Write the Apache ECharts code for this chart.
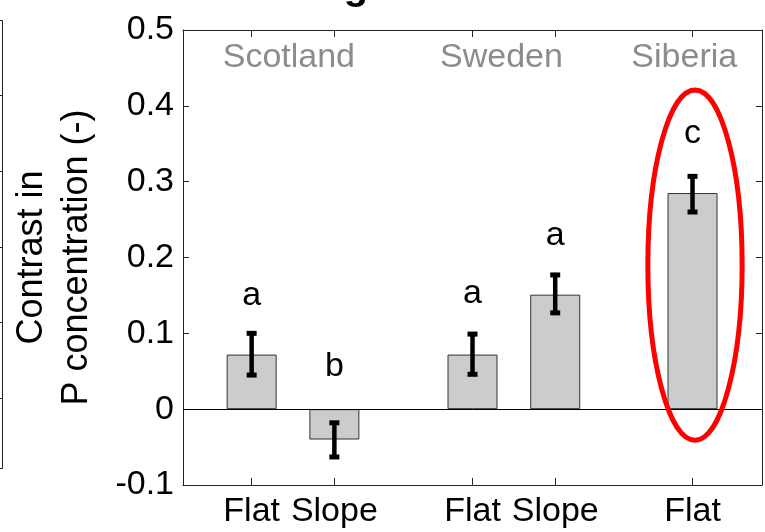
<!DOCTYPE html>
<html>
<head>
<meta charset="utf-8">
<script src="https://cdn.jsdelivr.net/npm/echarts@6/dist/echarts.min.js"></script>
<style>
html, body { margin: 0; padding: 0; background: #fff; }
#main { width: 765px; height: 532px; }
</style>
</head>
<body>
<div id="main"></div>
<script>
// 数据
var barNames = ['Flat', 'Slope', 'Flat', 'Slope', 'Flat'];
var barX = [1, 2, 3.67, 4.67, 6.33];
var barValues = [0.072, -0.040, 0.072, 0.151, 0.285];
var errLow = [0.045, -0.063, 0.046, 0.127, 0.260];
var errHigh = [0.100, -0.018, 0.099, 0.177, 0.307];
var letters = ['a', 'b', 'a', 'a', 'c'];
var letterY = [0.150, 0.056, 0.152, 0.229, 0.363];
var groupNames = ['Scotland', 'Sweden', 'Siberia'];
var groupX = [1.45, 4.02, 6.23];
var groupY = 0.464;
// 椭圆 (中心x, 中心y, 半宽, 半高)
var ellipse = [6.36, 0.19, 0.57, 0.231];

var FONT = 'Liberation Sans, Arial, sans-serif';

var chart = echarts.init(document.getElementById('main'));

var barData = [];
var errData = [];
var letterData = [];
for (var i = 0; i < barX.length; i++) {
    barData.push([barX[i], barValues[i]]);
    errData.push([barX[i], errLow[i], errHigh[i]]);
    letterData.push([barX[i], letterY[i]]);
}
var groupData = [];
for (var j = 0; j < groupNames.length; j++) {
    groupData.push([groupX[j], groupY]);
}

function xLabel(v) {
    for (var k = 0; k < barX.length; k++) {
        if (Math.abs(barX[k] - v) < 1e-6) return barNames[k];
    }
    return '';
}

var option = {
    animation: false,
    backgroundColor: '#fff',
    grid: { left: 183, right: 3, top: 30, bottom: 47 },
    xAxis: [{
        type: 'value', min: 0.17, max: 7.17, position: 'bottom',
        splitLine: { show: false },
        axisLine: { show: true, onZero: false, lineStyle: { color: '#222', width: 1 } },
        axisTick: { show: true, inside: true, length: 7, customValues: barX, lineStyle: { color: '#222' } },
        axisLabel: { show: true, customValues: barX, formatter: xLabel, margin: 10,
            color: '#000', fontSize: 34, fontFamily: FONT }
    }, {
        type: 'value', min: 0.17, max: 7.17, position: 'top',
        splitLine: { show: false },
        axisLine: { show: true, onZero: false, lineStyle: { color: '#222', width: 1 } },
        axisTick: { show: true, inside: true, length: 7, customValues: barX, lineStyle: { color: '#222' } },
        axisLabel: { show: false }
    }],
    yAxis: [{
        type: 'value', min: -0.1, max: 0.5, interval: 0.1, position: 'left',
        name: 'Contrast in\nP concentration (-)',
        nameLocation: 'middle', nameRotate: 90, nameGap: 83,
        nameTextStyle: { color: '#000', fontSize: 36, fontFamily: FONT, lineHeight: 45 },
        splitLine: { show: false },
        axisLine: { show: true, lineStyle: { color: '#222', width: 1 } },
        axisTick: { show: true, inside: true, length: 6, lineStyle: { color: '#222' } },
        axisLabel: { color: '#000', fontSize: 34, fontFamily: FONT, margin: 9,
            formatter: function (v) { return String(Math.round(v * 10) / 10); } }
    }, {
        type: 'value', min: -0.1, max: 0.5, interval: 0.1, position: 'right',
        splitLine: { show: false },
        axisLine: { show: true, lineStyle: { color: '#222', width: 1 } },
        axisTick: { show: true, inside: true, length: 6, lineStyle: { color: '#222' } },
        axisLabel: { show: false }
    }],
    graphic: [{
        // 左侧相邻图的边框
        type: 'polyline', silent: true,
        shape: { points: [[0, 20.5], [2.5, 20.5], [2.5, 468.5], [0, 468.5]] },
        style: { fill: 'none', stroke: '#222', lineWidth: 1 }
    }, {
        type: 'group', silent: true,
        children: [95, 171, 247, 322, 398].map(function (yy) {
            return { type: 'line', shape: { x1: 0, y1: yy + 0.5, x2: 2.5, y2: yy + 0.5 },
                style: { stroke: '#222', lineWidth: 1 } };
        })
    }, {
        // 标题被截掉的部分
        type: 'text', silent: true, x: 356, y: 8,
        style: { text: 'g', font: 'bold 40px ' + FONT, fill: '#000', align: 'center', verticalAlign: 'bottom' }
    }],
    series: [{
        type: 'bar', xAxisIndex: 0, yAxisIndex: 0,
        data: barData, barWidth: 50,
        itemStyle: { color: '#cccccc', borderColor: '#333', borderWidth: 1 },
        markLine: {
            silent: true, symbol: 'none', label: { show: false },
            lineStyle: { color: '#000', width: 1, type: 'solid' },
            data: [{ yAxis: 0 }]
        },
        z: 2
    }, {
        // 误差线
        type: 'custom', xAxisIndex: 0, yAxisIndex: 0,
        data: errData, z: 4,
        renderItem: function (params, api) {
            var x = api.value(0);
            var pLo = api.coord([x, api.value(1)]);
            var pHi = api.coord([x, api.value(2)]);
            return {
                type: 'group',
                children: [{
                    type: 'line', shape: { x1: pHi[0], y1: pHi[1], x2: pLo[0], y2: pLo[1] },
                    style: { stroke: '#000', lineWidth: 4.5 }
                }, {
                    type: 'rect', shape: { x: pHi[0] - 5, y: pHi[1] - 2.5, width: 10, height: 5 },
                    style: { fill: '#000' }
                }, {
                    type: 'rect', shape: { x: pLo[0] - 5, y: pLo[1] - 2.5, width: 10, height: 5 },
                    style: { fill: '#000' }
                }]
            };
        }
    }, {
        // 显著性字母
        type: 'custom', xAxisIndex: 0, yAxisIndex: 0,
        data: letterData, z: 5,
        renderItem: function (params, api) {
            var p = api.coord([api.value(0), api.value(1)]);
            return {
                type: 'text', x: p[0], y: p[1],
                style: { text: letters[params.dataIndex], font: '34px ' + FONT, fill: '#000',
                    align: 'center', verticalAlign: 'middle' }
            };
        }
    }, {
        // 地区名称
        type: 'custom', xAxisIndex: 0, yAxisIndex: 0,
        data: groupData, z: 5,
        renderItem: function (params, api) {
            var p = api.coord([api.value(0), api.value(1)]);
            return {
                type: 'text', x: p[0], y: p[1],
                style: { text: groupNames[params.dataIndex], font: '34px ' + FONT, fill: '#8c8c8c',
                    align: 'center', verticalAlign: 'middle' }
            };
        }
    }, {
        // 红色椭圆
        type: 'custom', xAxisIndex: 0, yAxisIndex: 0,
        data: [ellipse], z: 6,
        renderItem: function (params, api) {
            var c = api.coord([api.value(0), api.value(1)]);
            var s = api.size([api.value(2), api.value(3)]);
            return {
                type: 'ellipse',
                shape: { cx: c[0], cy: c[1], rx: s[0], ry: s[1] },
                style: { fill: 'none', stroke: '#ff0000', lineWidth: 5 }
            };
        }
    }]
};

chart.setOption(option);
</script>
</body>
</html>
